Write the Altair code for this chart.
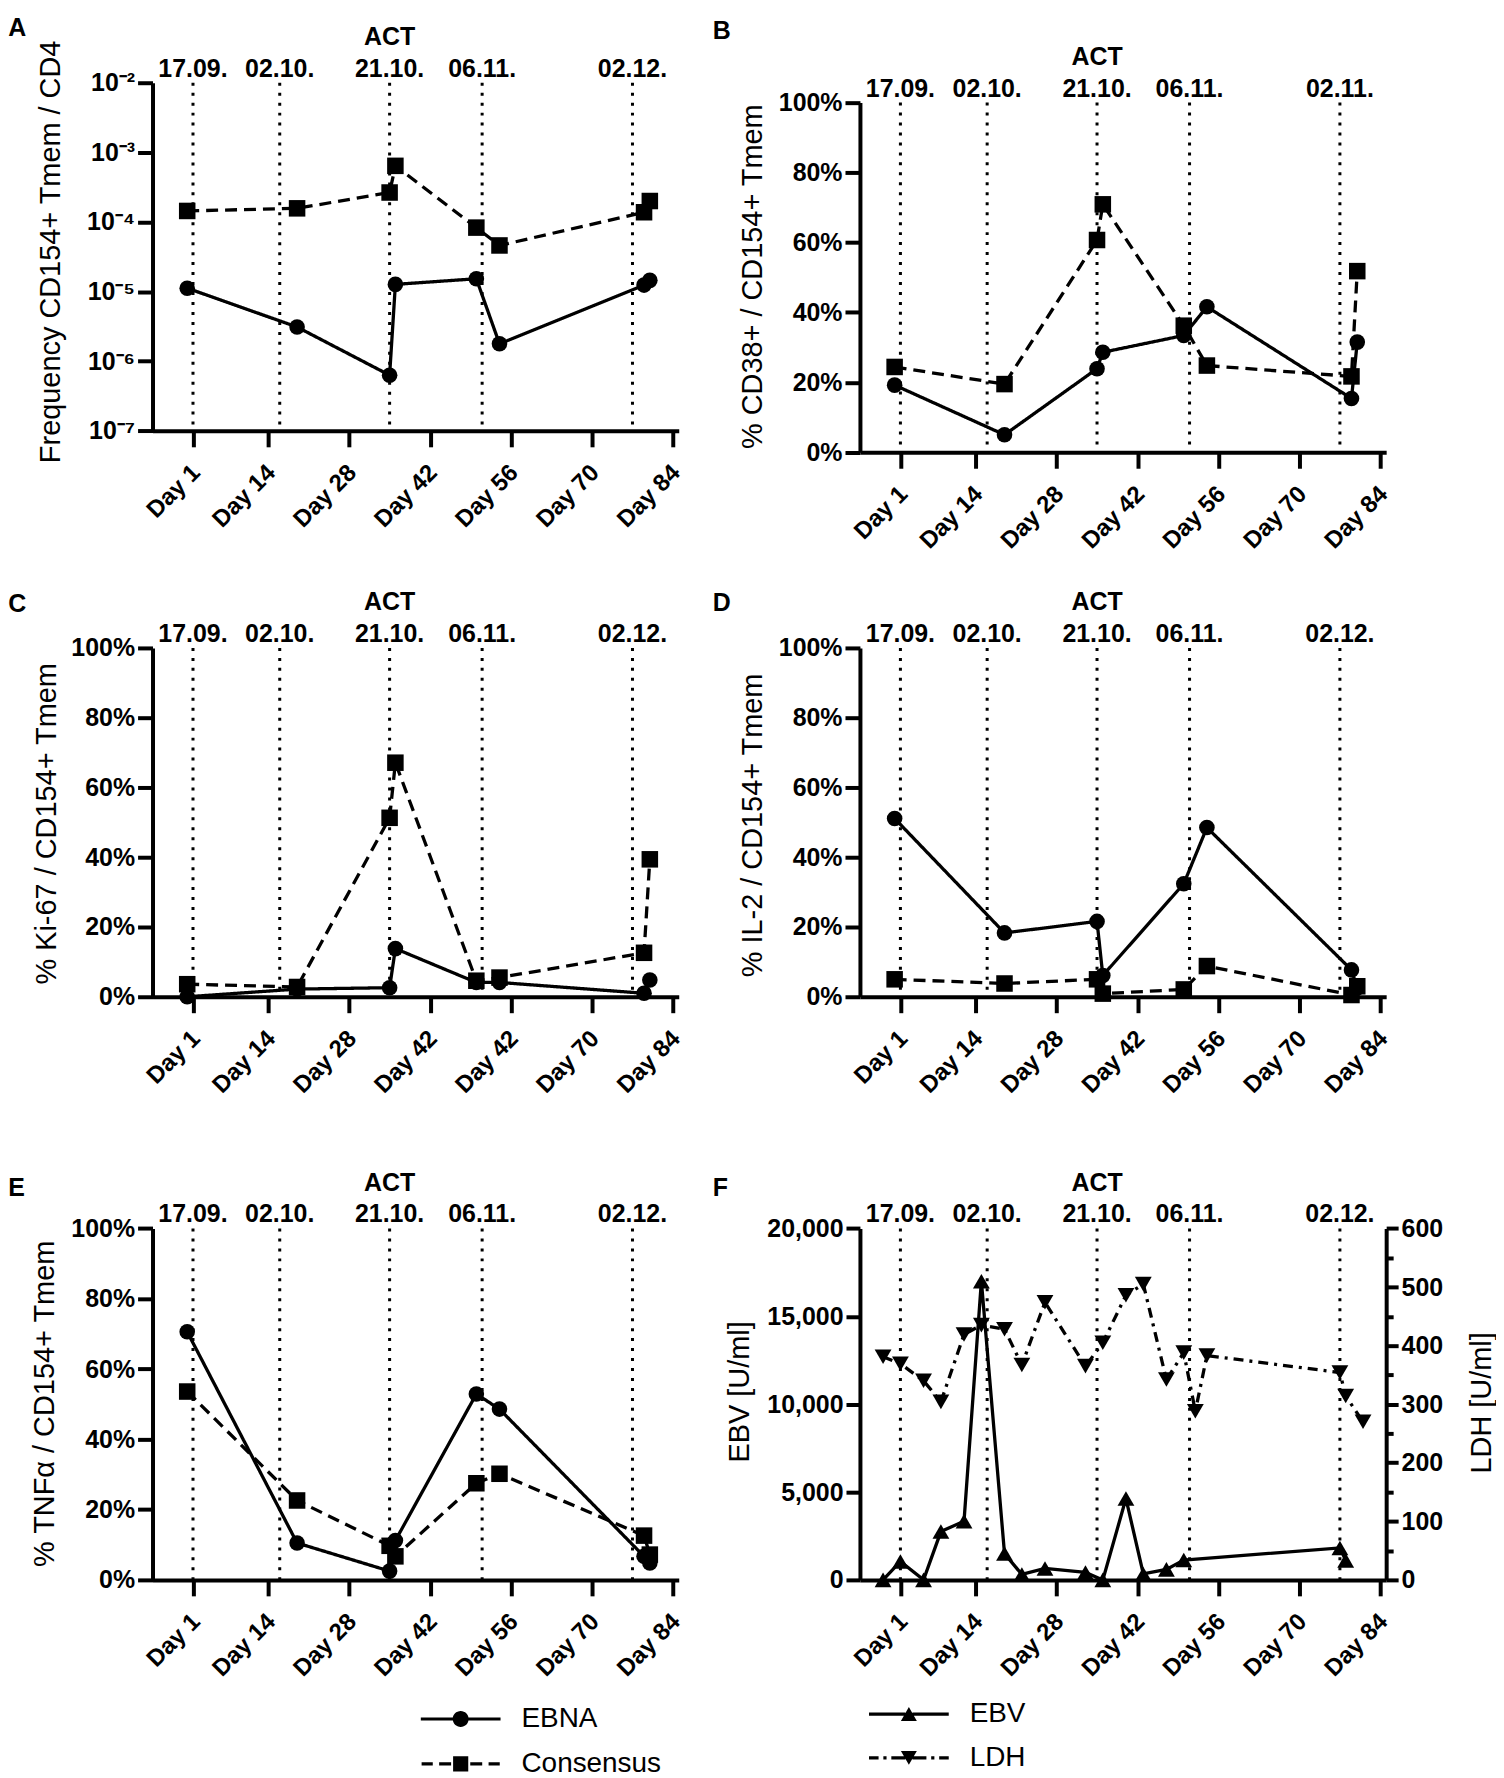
import altair as alt
import pandas as pd

FONT = "Liberation Sans"

# ---------------- data ----------------
days = [0, 19, 35, 36, 50, 54, 79, 80]
series_names = ["EBNA", "Consensus"]

freq_ebna = [1.12e-5, 3.1e-6, 6.3e-7, 1.27e-5, 1.53e-5, 1.78e-6, 1.24e-5, 1.45e-5]
freq_cons = [1.44e-4, 1.57e-4, 2.65e-4, 6.4e-4, 8.3e-5, 4.6e-5, 1.38e-4, 2.0e-4]
cd38_ebna = [19.2, 5.0, 23.9, 28.6, 33.4, 41.6, 15.4, 31.5]
cd38_cons = [24.4, 19.5, 60.7, 70.9, 36.2, 24.8, 21.7, 51.8]
ki67_ebna = [0.0, 2.2, 2.6, 13.8, 4.1, 4.1, 1.0, 4.8]
ki67_cons = [3.6, 2.8, 51.3, 67.1, 4.6, 5.5, 12.6, 39.4]
il2_ebna = [51.1, 18.3, 21.6, 6.1, 32.4, 48.5, 7.7, 2.5]
il2_cons = [5.0, 3.8, 5.0, 0.9, 2.1, 8.8, 0.5, 3.0]
tnf_ebna = [70.6, 10.5, 2.5, 11.2, 52.9, 48.6, 6.7, 4.8]
tnf_cons = [53.6, 22.6, 9.7, 6.7, 27.5, 30.2, 12.6, 7.2]

lab_series = ["EBV", "LDH"]
ebv_days = [-2, 1, 5, 8, 12, 15, 19, 22, 26, 33, 36, 40, 43, 47, 50, 77, 78]
ebv_values = [0, 1050, 0, 2750, 3340, 17000, 1500, 310, 650, 425, 0, 4630, 340, 600, 1130, 1820, 1110]
ldh_days = [-2, 1, 5, 8, 12, 15, 19, 22, 26, 33, 36, 40, 43, 47, 50, 52, 54, 77, 78, 81]
ldh_values = [381, 369, 340, 304, 419, 435, 428, 367, 474, 365, 405, 486, 505, 342, 388, 288, 383, 354, 314, 270]

event_days = [1, 16, 35, 51, 77]
event_labels = ["17.09.", "02.10.", "21.10.", "06.11.", "02.12."]
event_labels_b = ["17.09.", "02.10.", "21.10.", "06.11.", "02.11."]
act_day = 35
act_label = "ACT"

x_ticks = [1, 14, 28, 42, 56, 70, 84]
x_labels = ["Day 1", "Day 14", "Day 28", "Day 42", "Day 56", "Day 70", "Day 84"]
x_labels_c = ["Day 1", "Day 14", "Day 28", "Day 42", "Day 42", "Day 70", "Day 84"]

pct_ticks = [0, 20, 40, 60, 80, 100]
log_ticks = [1e-7, 1e-6, 1e-5, 1e-4, 1e-3, 1e-2]
log_labels = ["10⁻⁷", "10⁻⁶", "10⁻⁵", "10⁻⁴", "10⁻³", "10⁻²"]
ebv_ticks = [0, 5000, 10000, 15000, 20000]
ldh_ticks = [0, 100, 200, 300, 400, 500, 600]
ldh_minor = [50, 150, 250, 350, 450, 550]

titles = {
    "A": "Frequency CD154+ Tmem / CD4",
    "B": "% CD38+ / CD154+ Tmem",
    "C": "% Ki-67 / CD154+ Tmem",
    "D": "% IL-2 / CD154+ Tmem",
    "E": "% TNFα / CD154+ Tmem",
    "F1": "EBV [U/ml]",
    "F2": "LDH [U/ml]",
}

# ---------------- layout / style ----------------
W = 528
X_DOMAIN = [-6, 85]
LW = 3.3      # data lines
AW = 4.0      # axis lines / ticks
NO_BORDER = alt.ViewBackground(stroke="transparent", strokeWidth=0)


def seg(x1, x2, h=0.2):
    return f"M{x1},{-h}H{x2}V{h}H{x1}Z"


CIRCLE = "M1,0A1,1,0,1,1,-1,0A1,1,0,1,1,1,0Z"
SQUARE = "M-0.95,-0.95H0.95V0.95H-0.95Z"
TRI_UP = "M0,-0.87L1,0.87L-1,0.87Z"
TRI_DOWN = "M0,0.87L-1,-0.87L1,-0.87Z"

PATH_EBNA = seg(-5, -0.95) + seg(0.95, 5) + CIRCLE
PATH_CONS = seg(-4.9, -3.5) + seg(-2.7, -1.2) + seg(1.2, 2.7) + seg(3.5, 4.9) + SQUARE
PATH_EBV = seg(-5, -0.45) + seg(0.45, 5) + TRI_UP
PATH_LDH = (seg(-5, -3.8) + seg(-3.2, -2.8) + seg(-2.2, -0.45) + seg(0.45, 2.2) +
            seg(2.8, 3.2) + seg(3.8, 5) + TRI_DOWN)


def js_list(items):
    return "[" + ",".join("'" + str(s) + "'" for s in items) + "]"


def xscale():
    return alt.Scale(domain=X_DOMAIN, nice=False, zero=False)


def make_x_axis(labels, offset=0):
    expr = js_list(labels) + "[indexof(" + str(x_ticks) + ", datum.value)]"
    return alt.Axis(values=x_ticks, labelExpr=expr, title=None, orient="bottom", offset=offset,
                    labelAngle=315, labelAlign="right", labelBaseline="middle", labelPadding=22,
                    labelOffset=3,
                    labelFont=FONT, labelFontSize=24, labelFontWeight="bold", labelColor="black",
                    labelFlush=False, labelOverlap=False, tickSize=16, tickWidth=AW, tickColor="black",
                    domainWidth=AW, domainColor="black", grid=False)


def make_y_axis(values, title, tx, ty, expr, orient="left", tick=15):
    return alt.Axis(values=values, labelExpr=expr, title=title, orient=orient,
                    titleX=tx, titleY=ty, titleAngle=270, titleAlign="center",
                    titleBaseline="alphabetic", titleFont=FONT, titleFontSize=29,
                    titleFontWeight="normal", titleColor="black",
                    labelFont=FONT, labelFontSize=25, labelFontWeight="bold", labelColor="black",
                    labelPadding=3, labelFlush=False, labelOverlap=False,
                    tickSize=tick, tickWidth=AW, tickColor="black",
                    domainWidth=AW, domainColor="black", grid=False)


def long_df(v1, v2):
    rows = []
    for s, vals in zip(series_names, [v1, v2]):
        for d, v in zip(days, vals):
            rows.append({"day": d, "value": v, "series": s})
    return pd.DataFrame(rows)


def annotations(dates, plot_top, letter, letter_pos, xaxis):
    ev = pd.DataFrame({"day": event_days, "label": dates})
    date_t = alt.Chart(ev).mark_text(font=FONT, fontSize=25, fontWeight="bold", color="black",
                                     align="center", baseline="alphabetic").encode(
        x=alt.X("day:Q", scale=xscale(), axis=xaxis),
        y=alt.value(plot_top - 6),
        text="label:N")
    act_t = alt.Chart(pd.DataFrame({"day": [act_day], "label": [act_label]})).mark_text(
        font=FONT, fontSize=25, fontWeight="bold", color="black", align="center",
        baseline="alphabetic").encode(
        x=alt.X("day:Q", scale=xscale(), axis=xaxis),
        y=alt.value(plot_top - 38),
        text="label:N")
    let_t = alt.Chart(pd.DataFrame({"label": [letter]})).mark_text(
        font=FONT, fontSize=25, fontWeight="bold", color="black", align="left",
        baseline="top").encode(
        x=alt.value(letter_pos[0]), y=alt.value(letter_pos[1]), text="label:N")
    return [date_t, act_t, let_t]


def rules_layer(y_scale, top_val, bot_val, xaxis, yaxis):
    ev = pd.DataFrame({"day": event_days})
    return alt.Chart(ev).mark_rule(color="black", strokeWidth=3, strokeDash=[3, 7]).encode(
        x=alt.X("day:Q", scale=xscale(), axis=xaxis),
        y=alt.YDatum(top_val, scale=y_scale, axis=yaxis),
        y2=alt.Y2Datum(bot_val))


def legend_layer(names, paths, lx, ly, row_pad):
    return alt.Chart(pd.DataFrame({"series": names})).transform_filter("false").mark_point(
        filled=True, opacity=1, color="black").encode(
        shape=alt.Shape("series:N", scale=alt.Scale(domain=names, range=paths),
                        legend=alt.Legend(orient="none", legendX=lx, legendY=ly, title=None,
                                          direction="vertical", labelFont=FONT, labelFontSize=28,
                                          labelColor="black", symbolSize=256, symbolStrokeWidth=0,
                                          symbolFillColor="black",
                                          labelOffset=47, rowPadding=row_pad, padding=0,
                                          labelLimit=300)))


def build_panel(letter, ebna, cons, y_scale, yaxis, top_val, bot_val, height, plot_top,
                x_offset, xlabels, dates, letter_pos, legend=None):
    df = long_df(ebna, cons)
    xaxis = make_x_axis(xlabels, x_offset)
    line = alt.Chart(df).mark_line(color="black", strokeWidth=LW).encode(
        x=alt.X("day:Q", scale=xscale(), axis=xaxis),
        y=alt.Y("value:Q", scale=y_scale, axis=yaxis),
        strokeDash=alt.StrokeDash("series:N", scale=alt.Scale(domain=series_names,
                                                              range=[[1, 0], [12, 7]]), legend=None),
        detail="series:N")
    pts = alt.Chart(df).mark_point(filled=True, opacity=1, color="black").encode(
        x=alt.X("day:Q", scale=xscale(), axis=xaxis),
        y=alt.Y("value:Q", scale=y_scale, axis=yaxis),
        shape=alt.Shape("series:N", scale=alt.Scale(domain=series_names, range=["circle", "square"]),
                        legend=None),
        size=alt.Size("series:N", scale=alt.Scale(domain=series_names, range=[245, 275]), legend=None))
    layers = [rules_layer(y_scale, top_val, bot_val, xaxis, yaxis), line, pts] + \
        annotations(dates, plot_top, letter, letter_pos, xaxis)
    if legend is not None:
        layers.append(legend)
    ch = alt.layer(*layers).properties(width=W, height=height, view=NO_BORDER)
    if legend is not None:
        ch = ch.resolve_scale(shape="independent")
    return ch


pct_expr = "datum.value + '%'"
log_expr = js_list(log_labels) + "[round(log(datum.value)/LN10)+7]"

H1, H2, H3 = 349.3, 350, 368
B_TOP, B_BOT = 19.9, 370.8
R3_TOP = 15.4

pA = build_panel("A", freq_ebna, freq_cons,
                 alt.Scale(type="log", domain=[1e-7, 1e-2], nice=False),
                 make_y_axis(log_ticks, titles["A"], -93, 169.2, log_expr),
                 1e-2, 1e-7, H1, 0, 0, x_labels, event_labels, (-144.8, -66.4))

pB = build_panel("B", cd38_ebna, cd38_cons,
                 alt.Scale(domain=[0, 100], nice=False, zero=False, range=[B_BOT, B_TOP]),
                 make_y_axis(pct_ticks, titles["B"], -99, 194.1, pct_expr),
                 100, 0, H1, B_TOP, B_BOT - H1, x_labels, event_labels_b, (-147.6, -63.4))

pC = build_panel("C", ki67_ebna, ki67_cons,
                 alt.Scale(domain=[0, 100], nice=False, zero=False),
                 make_y_axis(pct_ticks, titles["C"], -97.3, 176, pct_expr),
                 100, 0, H2, 0, 0, x_labels_c, event_labels, (-144.8, -56.3))

pD = build_panel("D", il2_ebna, il2_cons,
                 alt.Scale(domain=[0, 100], nice=False, zero=False),
                 make_y_axis(pct_ticks, titles["D"], -99, 177.6, pct_expr),
                 100, 0, H2, 0, 0, x_labels, event_labels, (-147.6, -56.8))

legE = legend_layer(series_names, [PATH_EBNA, PATH_CONS], 295.2, 493.6, 17)
pE = build_panel("E", tnf_ebna, tnf_cons,
                 alt.Scale(domain=[0, 100], nice=False, zero=False, range=[H3, R3_TOP]),
                 make_y_axis(pct_ticks, titles["E"], -99.5, 190.9, pct_expr),
                 100, 0, H3, R3_TOP, 0, x_labels, event_labels, (-144.8, -36.9), legend=legE)

# ---- panel F ----
ebv_df = pd.DataFrame({"day": ebv_days, "value": ebv_values})
ldh_df = pd.DataFrame({"day": ldh_days, "value": ldh_values})
ebv_scale = alt.Scale(domain=[0, 20000], nice=False, zero=False, range=[H3, R3_TOP])
ldh_scale = alt.Scale(domain=[0, 600], nice=False, zero=False, range=[H3, R3_TOP])
xaxF = make_x_axis(x_labels, 0)
ebv_axis = make_y_axis(ebv_ticks, titles["F1"], -112, 178.9, "format(datum.value, ',')", tick=14)

ebv_line = alt.Chart(ebv_df).mark_line(color="black", strokeWidth=LW).encode(
    x=alt.X("day:Q", scale=xscale(), axis=xaxF),
    y=alt.Y("value:Q", scale=ebv_scale, axis=ebv_axis))
ebv_pts = alt.Chart(ebv_df).mark_point(filled=True, opacity=1, color="black", shape="triangle-up",
                                       size=285).encode(
    x=alt.X("day:Q", scale=xscale(), axis=xaxF),
    y=alt.Y("value:Q", scale=ebv_scale, axis=ebv_axis))
left_group = alt.layer(rules_layer(ebv_scale, 20000, 0, xaxF, ebv_axis), ebv_line, ebv_pts,
                       *annotations(event_labels, R3_TOP, "F", (-147.6, -36.9), xaxF))

ldh_line = alt.Chart(ldh_df).mark_line(color="black", strokeWidth=LW, strokeDash=[10, 6, 3, 6]).encode(
    x=alt.X("day:Q", scale=xscale(), axis=xaxF),
    y=alt.Y("value:Q", scale=ldh_scale,
            axis=make_y_axis(ldh_ticks, titles["F2"], 104.2, 189.9, "format(datum.value, 'd')",
                             orient="right", tick=12)))
ldh_pts = alt.Chart(ldh_df).mark_point(filled=True, opacity=1, color="black", shape="triangle-down",
                                       size=285).encode(
    x=alt.X("day:Q", scale=xscale(), axis=xaxF),
    y=alt.Y("value:Q", scale=ldh_scale,
            axis=alt.Axis(orient="right", values=ldh_minor, labels=False, domain=False, title=None,
                          tickSize=7, tickWidth=AW, tickColor="black", grid=False)))
right_group = alt.layer(ldh_line, ldh_pts).resolve_axis(y="independent")

legF = legend_layer(lab_series, [PATH_EBV, PATH_LDH], 35.1, 488.6, 16)
pF = alt.layer(left_group, right_group, legF).resolve_scale(
    y="independent", shape="independent").properties(width=W, height=H3, view=NO_BORDER)

chart = alt.concat(pA, pB, pC, pD, pE, pF, columns=2,
                   spacing={"row": 217.1, "column": 181.8},
                   bounds="flush", align="each").properties(
    padding={"left": 0, "top": 5, "right": 0, "bottom": 0}
).configure_view(stroke="transparent", strokeWidth=0).configure(
    font=FONT, style={"cell": {"stroke": "transparent", "strokeWidth": 0}})

chart.save("out.html", embed_options={"renderer": "svg", "actions": False})
